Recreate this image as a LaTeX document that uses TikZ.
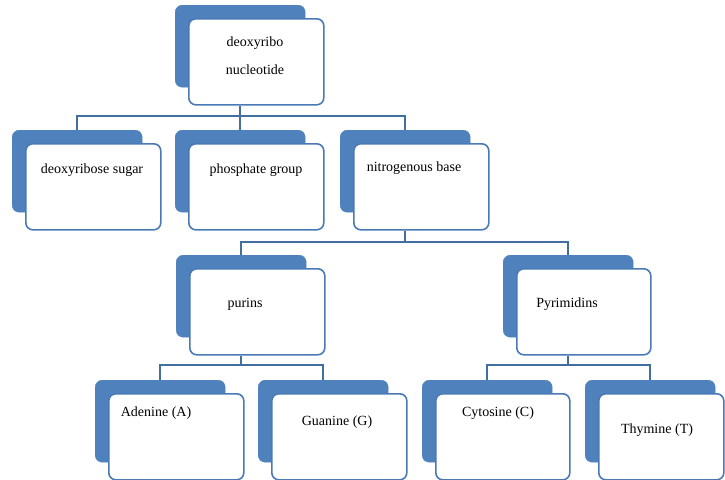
\documentclass[tikz,border=0pt]{standalone}
\usepackage{fontspec}
\setmainfont{Liberation Serif}
\definecolor{backblue}{HTML}{4F81BD}
\definecolor{edgeblue}{HTML}{4A7AB5}
\definecolor{connblue}{HTML}{41709F}
\tikzset{
  backbox/.style={fill=backblue, draw=backblue, rounded corners=7pt, anchor=north west, minimum height=82pt, inner sep=0pt},
  frontbox/.style={fill=white, draw=edgeblue, line width=1.6pt, rounded corners=7pt, anchor=north west, minimum height=86pt, inner sep=0pt},
  lbl/.style={font=\fontsize{14pt}{16pt}\selectfont, inner sep=0pt},
  conn/.style={draw=connblue, line width=1.8pt}
}
\newcommand\dbox[5]{%
  \node[backbox, minimum width=130pt] (#1-b) at (#2,#3) {};
  \node[frontbox, minimum width=#4] (#1) at (#2+13,#3+13) {};
}
\begin{document}
\begin{tikzpicture}[x=1pt,y=-1pt]
\useasboundingbox (0,0) rectangle (725,479);
\dbox{top}{175}{5}{135pt}{}
\dbox{sugar}{12}{130}{135pt}{}
\dbox{phos}{175}{130}{135pt}{}
\dbox{base}{340}{130}{135pt}{}
\dbox{purins}{176}{255}{135pt}{}
\dbox{pyr}{503}{255}{134pt}{}
\dbox{ade}{95}{380}{135pt}{}
\dbox{gua}{258}{380}{135pt}{}
\dbox{cyt}{422}{380}{134pt}{}
\dbox{thy}{585}{380}{125pt}{}
% labels
\node[lbl] (t1) at (255,43) {deoxyribo};
\node[lbl] (t2) at (255,70) {nucleotide};
\node[lbl] (l-sugar) at (92,170) {deoxyribose sugar};
\node[lbl] (l-phos) at (256,170) {phosphate group};
\node[lbl] (l-base) at (414,168) {nitrogenous base};
\node[lbl] (l-pur) at (245,304) {purins};
\node[lbl] (l-pyr) at (567,304) {Pyrimidins};
\node[lbl] (l-ade) at (156,413) {Adenine (A)};
\node[lbl] (l-gua) at (337,422) {Guanine (G)};
\node[lbl] (l-cyt) at (498,413) {Cytosine (C)};
\node[lbl] (l-thy) at (657,430) {Thymine (T)};
% buses
\coordinate (bus1) at (0,116);
\coordinate (bus2) at (0,242);
\coordinate (bus3) at (0,365);
\draw[conn] (top-b.center |- top.south) -- (top-b.center |- bus1);
\draw[conn] (sugar-b.north) |- (phos-b.center |- bus1) -| (base-b.north);
\draw[conn] (phos-b.north) -- (phos-b.center |- bus1);
\draw[conn] (base-b.center |- base.south) -- (base-b.center |- bus2);
\draw[conn] (purins-b.north) |- (base-b.center |- bus2) -| (pyr-b.north);
\draw[conn] (purins-b.center |- purins.south) -- (purins-b.center |- bus3);
\draw[conn] (ade-b.north) |- (purins-b.center |- bus3) -| (gua-b.north);
\draw[conn] (pyr-b.center |- pyr.south) -- (pyr-b.center |- bus3);
\draw[conn] (cyt-b.north) |- (pyr-b.center |- bus3) -| (thy-b.north);
\end{tikzpicture}
\end{document}
